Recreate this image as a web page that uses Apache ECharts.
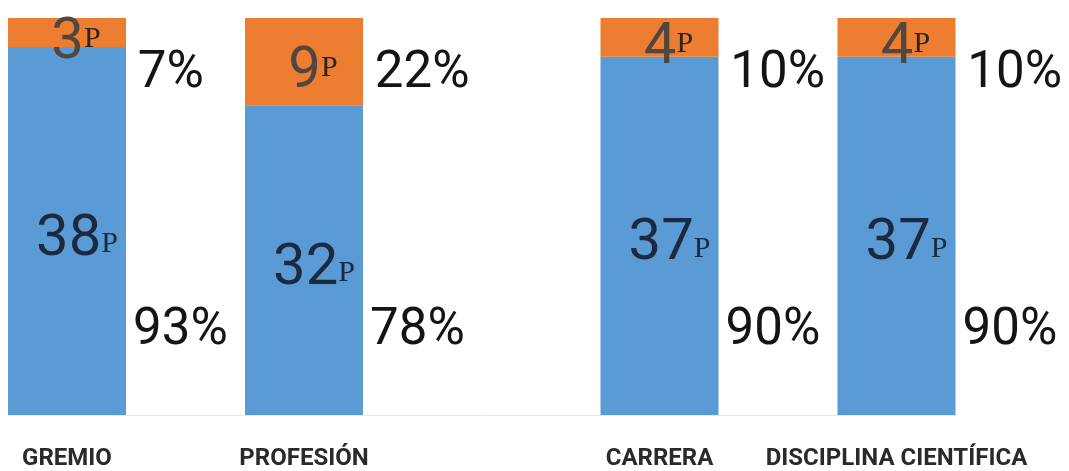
<!DOCTYPE html>
<html><head><meta charset="utf-8">
<script src="https://cdn.jsdelivr.net/npm/echarts@6/dist/echarts.min.js"></script>
<style>html,body{margin:0;padding:0;background:#fff}#c{width:1069px;height:471px}</style>
</head><body><div id="c"></div>
<script>
// Category slots (blank strings are spacer slots between groups of bars)
const categories = ['GREMIO', '', 'PROFESIÓN', '', '', 'CARRERA', '', 'DISCIPLINA CIENTÍFICA'];
const blueValues = [38, null, 32, null, null, 37, null, 37];
const orangeValues = [3, null, 9, null, null, 4, null, 4];
const bluePct = ['93%', '', '78%', '', '', '90%', '', '90%'];
const orangePct = ['7%', '', '22%', '', '', '10%', '', '10%'];

const SANS = "Roboto,'Liberation Sans',sans-serif";
const SERIF = "'Liberation Serif','DejaVu Serif',serif";
const totals = blueValues.map((v, i) => v == null ? 0 : v + orangeValues[i]);
const yMax = Math.max(...totals);

const chart = echarts.init(document.getElementById('c'), null, {renderer: 'canvas'});
chart.setOption({
  animation: false,
  backgroundColor: '#ffffff',
  grid: {left: 7.75, right: 113.25, top: 18, bottom: 53, containLabel: false},
  xAxis: {
    type: 'category', data: categories,
    axisLine: {show: true, lineStyle: {color: '#e8e8e8', width: 1}},
    axisTick: {show: false},
    axisLabel: {interval: 0, margin: 32, fontFamily: SANS, fontWeight: 'bold', fontSize: 24, color: '#2a2a2a'}
  },
  yAxis: {type: 'value', min: 0, max: yMax, show: false, splitLine: {show: false}},
  series: [
    {
      name: 'blue', type: 'bar', stack: 'a', barWidth: 118, data: blueValues,
      itemStyle: {color: '#5b9bd5'},
      label: {
        show: true, position: 'inside', offset: [10, 9],
        formatter: p => p.value == null ? '' : '{n|' + p.value + '}{p|P}',
        rich: {
          n: {fontFamily: SANS, fontSize: 58, color: '#1b2a40', verticalAlign: 'bottom'},
          p: {fontFamily: SERIF, fontSize: 30, color: '#1b2a40', verticalAlign: 'bottom', padding: [0, 0, 10, 0]}
        }
      }
    },
    {
      name: 'orange', type: 'bar', stack: 'a', barWidth: 118, data: orangeValues,
      itemStyle: {color: '#ed7d31'},
      label: {
        show: true, position: 'inside', offset: [9, 11],
        formatter: p => p.value == null ? '' : '{n|' + p.value + '}{p|P}',
        rich: {
          n: {fontFamily: SANS, fontSize: 58, color: '#524640', verticalAlign: 'bottom'},
          p: {fontFamily: SERIF, fontSize: 30, color: '#2a2522', verticalAlign: 'bottom', padding: [0, 0, 18, 0]}
        }
      }
    },
    {
      name: 'bluePct', type: 'bar', stack: 'b', barWidth: 118, barGap: '-100%', data: blueValues,
      itemStyle: {color: 'rgba(0,0,0,0)'}, silent: true,
      label: {
        show: true, position: ['106%', '100%'], offset: [0, -84], align: 'left', verticalAlign: 'middle',
        fontFamily: SANS, fontSize: 51, color: '#141414',
        formatter: p => bluePct[p.dataIndex]
      }
    },
    {
      name: 'orangePct', type: 'bar', stack: 'b', barWidth: 118, barGap: '-100%', data: orangeValues,
      itemStyle: {color: 'rgba(0,0,0,0)'}, silent: true,
      label: {
        show: true, position: ['110%', 56], align: 'left', verticalAlign: 'middle',
        fontFamily: SANS, fontSize: 51, color: '#141414',
        formatter: p => orangePct[p.dataIndex]
      }
    }
  ]
});
</script></body></html>
